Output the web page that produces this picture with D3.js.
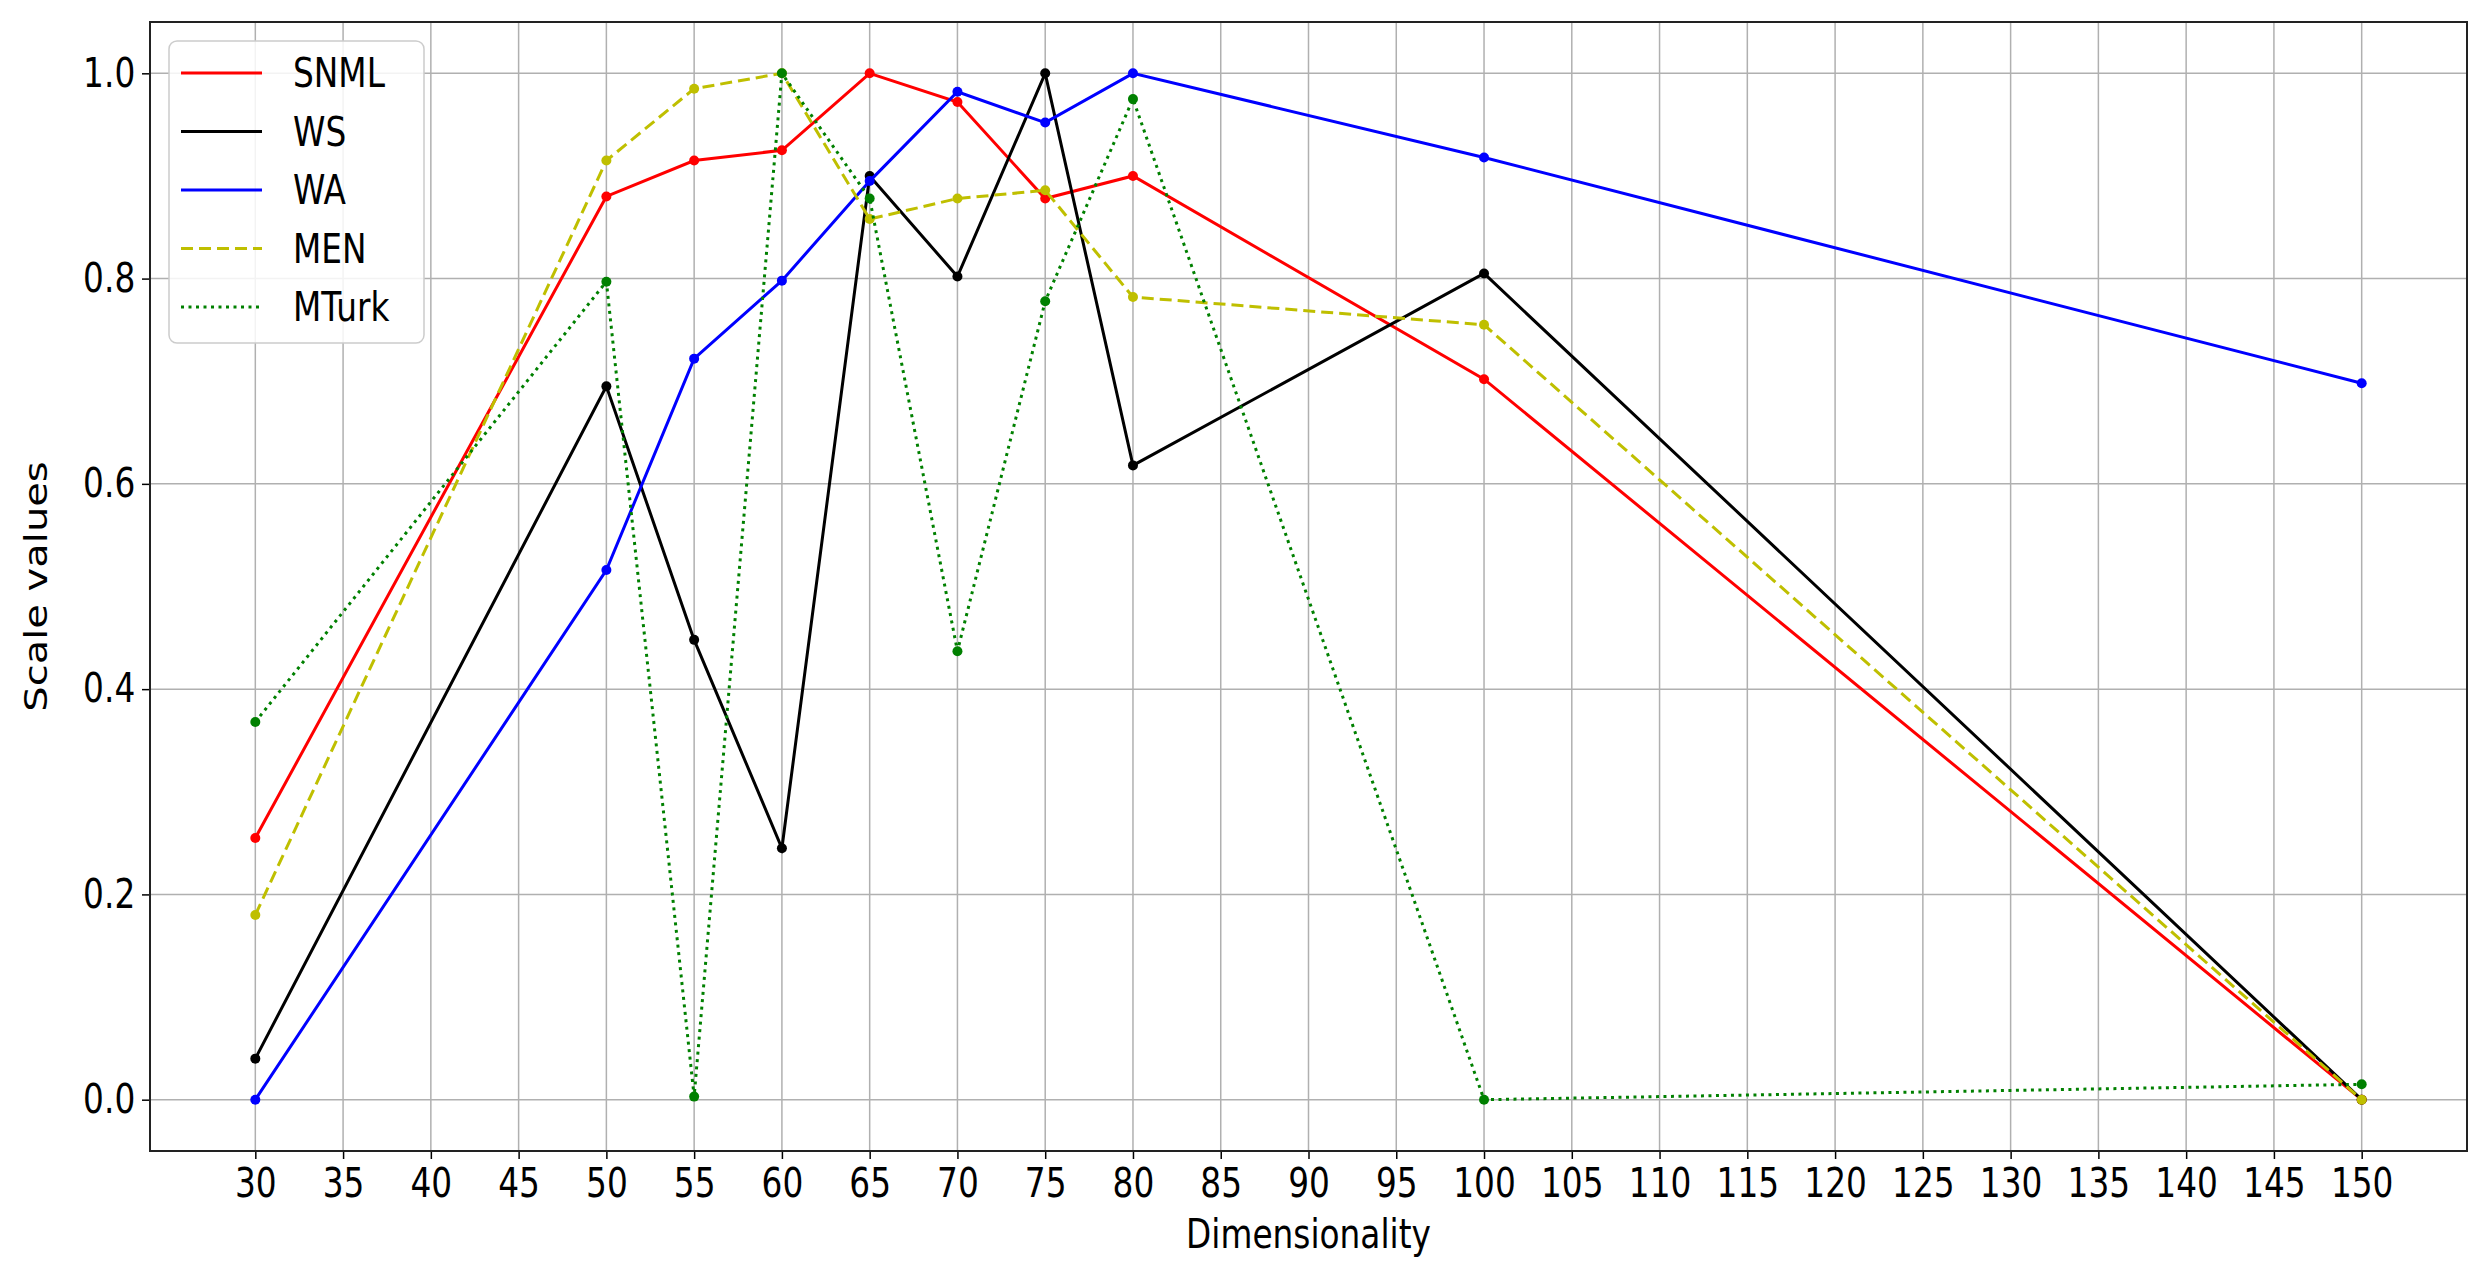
<!DOCTYPE html>
<html><head><meta charset="utf-8">
<script src="https://cdn.jsdelivr.net/npm/d3@7"></script>
<style>body{margin:0;background:#fff}svg{display:block}</style>
</head><body>
<script>
const dims = [30,50,55,60,65,70,75,80,100,150];
const snml = [0.255,0.88,0.915,0.925,1.0,0.972,0.878,0.9,0.702,0.0];
const ws = [0.04,0.695,0.448,0.245,0.9,0.802,1.0,0.618,0.805,0.0];
const wa = [0.0,0.516,0.722,0.798,0.895,0.982,0.952,1.0,0.918,0.698];
const men = [0.18,0.915,0.985,1.0,0.858,0.878,0.886,0.782,0.755,0.0];
const mturk = [0.368,0.797,0.003,1.0,0.878,0.437,0.778,0.975,0.0,0.015];
const xTicks = d3.range(30,151,5);
const yTicks = [0,0.2,0.4,0.6,0.8,1.0];
const series = [
 {name:"SNML", vals:snml, color:"#ff0000", dash:null},
 {name:"WS", vals:ws, color:"#000000", dash:null},
 {name:"WA", vals:wa, color:"#0000ff", dash:null},
 {name:"MEN", vals:men, color:"#bfbf00", dash:"12,6"},
 {name:"MTurk", vals:mturk, color:"#008000", dash:"3,4.5"}
];
const W=2491,H=1266, L=150,R=2467,T=22,B=1151;
const SX=0.82, FS=40;
const svg=d3.select("body").append("svg").attr("width",W).attr("height",H);
const x=d3.scaleLinear().domain([24,156]).range([L,R]);
const y=d3.scaleLinear().domain([-0.05,1.05]).range([B,T]);
const font="DejaVu Sans";
svg.append("g").selectAll("line").data(xTicks).join("line")
 .attr("x1",d=>x(d)).attr("x2",d=>x(d)).attr("y1",T).attr("y2",B).attr("stroke","#b0b0b0").attr("stroke-width",1.5);
svg.append("g").selectAll("line").data(yTicks).join("line")
 .attr("y1",d=>y(d)).attr("y2",d=>y(d)).attr("x1",L).attr("x2",R).attr("stroke","#b0b0b0").attr("stroke-width",1.5);
const xa=svg.append("g").attr("transform",`translate(0,${B})`).call(d3.axisBottom(x).tickValues(xTicks).tickSize(8).tickPadding(10).tickFormat(d3.format("d")));
const ya=svg.append("g").attr("transform",`translate(${L},0)`).call(d3.axisLeft(y).tickValues(yTicks).tickSize(8).tickPadding(10).tickFormat(d3.format(".1f")));
[xa,ya].forEach(a=>{a.select(".domain").remove();a.selectAll("text").attr("font-family",font).attr("font-size",FS).attr("fill","#000").attr("transform",`scale(${SX},1)`);a.selectAll("line").attr("stroke","#000").attr("stroke-width",1.5);});
svg.append("rect").attr("x",L).attr("y",T).attr("width",R-L).attr("height",B-T).attr("fill","none").attr("stroke","#222").attr("stroke-width",2);
svg.append("text").attr("transform",`translate(${(L+R)/2},1248) scale(${SX},1)`).attr("text-anchor","middle").attr("font-family",font).attr("font-size",FS).text("Dimensionality");
svg.append("text").attr("transform",`translate(47,${(T+B)/2}) rotate(-90) scale(1,${SX})`).attr("text-anchor","middle").attr("font-family",font).attr("font-size",FS).text("Scale values");
const line=d3.line().x((d,i)=>x(dims[i])).y(d=>y(d));
series.forEach(s=>{
 svg.append("path").datum(s.vals).attr("d",line).attr("fill","none").attr("stroke",s.color).attr("stroke-width",3).attr("stroke-dasharray",s.dash);
 svg.append("g").selectAll("circle").data(s.vals).join("circle").attr("cx",(d,i)=>x(dims[i])).attr("cy",d=>y(d)).attr("r",5).attr("fill",s.color);
});
const lg=svg.append("g");
lg.append("rect").attr("x",169).attr("y",41).attr("width",255).attr("height",302).attr("rx",8).attr("fill","#fff").attr("fill-opacity",0.85).attr("stroke","#ccc").attr("stroke-width",1.5);
series.forEach((s,i)=>{
 const yy=73+i*58.5;
 lg.append("line").attr("x1",181).attr("x2",262).attr("y1",yy).attr("y2",yy).attr("stroke",s.color).attr("stroke-width",3).attr("stroke-dasharray",s.dash);
 lg.append("text").attr("transform",`translate(293,${yy+14}) scale(${SX},1)`).attr("font-family",font).attr("font-size",FS).text(s.name);
});
</script>
</body></html>
